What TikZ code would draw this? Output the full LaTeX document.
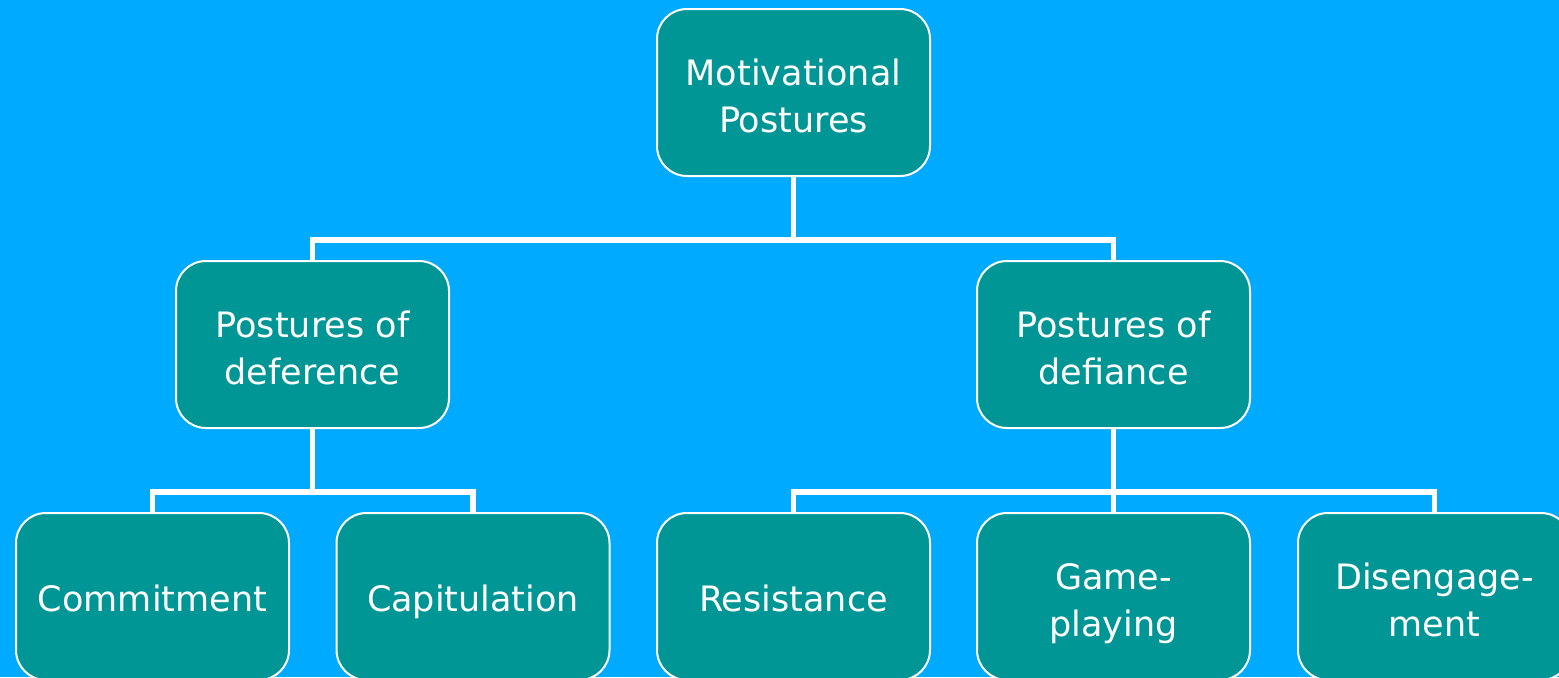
\documentclass[tikz,border=0pt]{standalone}
\usepackage{fontspec}
\setmainfont{DejaVu Sans}
\definecolor{bgblue}{RGB}{0,170,255}
\definecolor{boxteal}{RGB}{0,150,150}
\newcommand\twol[2]{\raisebox{-7.7pt}[24pt][24pt]{\begin{tabular}{@{}c@{}}#1\\#2\end{tabular}}}
\tikzset{
  box/.style={draw=white, line width=1pt, fill=boxteal, rounded corners=15pt,
    minimum width=136.5pt, minimum height=83.5pt, text=white, align=center,
    font=\fontsize{17.5}{23.5}\selectfont, inner sep=2pt,
    execute at begin node={\rule{0pt}{19.6pt}},
    execute at end node={\rule[-5pt]{0pt}{5pt}}},
  link/.style={draw=white, line width=2.6pt}
}
\begin{document}
\begin{tikzpicture}[x=0.5pt,y=-0.5pt]
\useasboundingbox (0,0) rectangle (1559,677);
\clip (0,0) rectangle (1559,677);
\fill[bgblue] (0,0) rectangle (1559,677);
\node[box] (top) at (793.5,92.5) {\twol{Motivational}{Postures}};
\node[box] (def) at (312.5,344.5) {\twol{Postures of}{deference}};
\node[box] (dfy) at (1113.5,344.5) {\twol{Postures of}{defiance}};
\node[box] (com) at (152.5,596.5) {Commitment};
\node[box] (cap) at (473,596.5) {Capitulation};
\node[box] (res) at (793.5,596.5) {Resistance};
\node[box] (gam) at (1113.5,596.5) {\twol{Game-}{playing}};
\node[box] (dis) at (1434.5,596.5) {\twol{Disengage-}{ment}};
\coordinate (j1) at (793.5,240);
\coordinate (j2) at (312.5,492);
\coordinate (j3) at (1113.5,492);
\draw[link] (top.south) -- (j1);
\draw[link] (def.north) |- (j1) -| (dfy.north);
\draw[link] (def.south) -- (j2);
\draw[link] (com.north) |- (j2) -| (cap.north);
\draw[link] (dfy.south) -- (j3);
\draw[link] (res.north) |- (j3) -| (dis.north);
\draw[link] (j3) -- (gam.north);
\end{tikzpicture}
\end{document}
